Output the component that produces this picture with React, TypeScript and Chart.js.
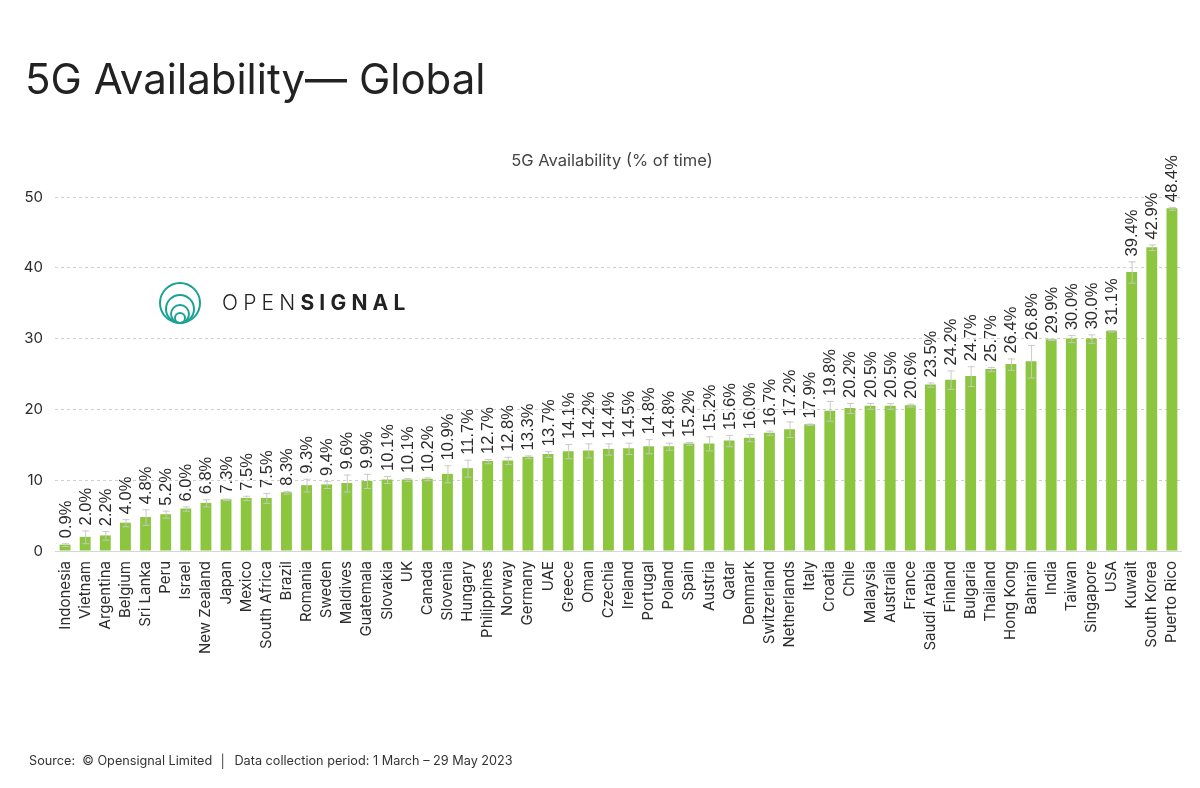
import React, { useEffect, useRef } from "react";
import { Chart, registerables } from "chart.js";

Chart.register(...registerables);

const countries = [
  "Indonesia", "Vietnam", "Argentina", "Belgium", "Sri Lanka", "Peru", "Israel", "New Zealand",
  "Japan", "Mexico", "South Africa", "Brazil", "Romania", "Sweden", "Maldives", "Guatemala",
  "Slovakia", "UK", "Canada", "Slovenia", "Hungary", "Philippines", "Norway", "Germany", "UAE",
  "Greece", "Oman", "Czechia", "Ireland", "Portugal", "Poland", "Spain", "Austria", "Qatar",
  "Denmark", "Switzerland", "Netherlands", "Italy", "Croatia", "Chile", "Malaysia", "Australia",
  "France", "Saudi Arabia", "Finland", "Bulgaria", "Thailand", "Hong Kong", "Bahrain", "India",
  "Taiwan", "Singapore", "USA", "Kuwait", "South Korea", "Puerto Rico",
];

const availability = [
  0.9, 2.0, 2.2, 4.0, 4.8, 5.2, 6.0, 6.8, 7.3, 7.5, 7.5, 8.3, 9.3, 9.4, 9.6, 9.9, 10.1, 10.1,
  10.2, 10.9, 11.7, 12.7, 12.8, 13.3, 13.7, 14.1, 14.2, 14.4, 14.5, 14.8, 14.8, 15.2, 15.2, 15.6,
  16.0, 16.7, 17.2, 17.9, 19.8, 20.2, 20.5, 20.5, 20.6, 23.5, 24.2, 24.7, 25.7, 26.4, 26.8, 29.9,
  30.0, 30.0, 31.1, 39.4, 42.9, 48.4,
];

const errorMargin = [
  0.2, 0.9, 0.6, 0.5, 1.1, 0.5, 0.3, 0.5, 0.1, 0.3, 0.7, 0.2, 0.9, 0.5, 1.2, 1.0, 0.5, 0.2,
  0.2, 1.2, 1.2, 0.3, 0.5, 0.2, 0.4, 1.0, 1.0, 0.8, 0.8, 1.0, 0.5, 0.2, 1.0, 0.8,
  0.5, 0.3, 1.1, 0.1, 1.4, 0.7, 0.4, 0.4, 0.2, 0.3, 1.3, 1.4, 0.3, 0.8, 2.3, 0.1,
  0.5, 0.6, 0.1, 1.5, 0.4, 0.2,
];

const yTicks = [0, 10, 20, 30, 40, 50];

const TITLE = "5G Availability\u2014 Global";
const SUBTITLE = "5G Availability (% of time)";
const FOOTER = "Source:  \u00A9 Opensignal Limited  \u2502  Data collection period: 1 March \u2013 29 May 2023";

const BAR_COLOR = "#8cc63f";
const TEXT_COLOR = "#2b2b2b";

const errorAndLabelPlugin = {
  id: "errorAndLabel",
  afterDatasetsDraw(chart: any) {
    const ctx = chart.ctx;
    const meta = chart.getDatasetMeta(0);
    const y = chart.scales.y;
    ctx.save();
    meta.data.forEach((bar: any, i: number) => {
      const v = availability[i];
      const e = errorMargin[i];
      const x = bar.x;
      const hi = y.getPixelForValue(v + e);
      const lo = y.getPixelForValue(Math.max(0, v - e));
      ctx.strokeStyle = "rgba(200,200,200,0.95)";
      ctx.lineWidth = 1;
      ctx.beginPath();
      ctx.moveTo(x + 0.5, hi);
      ctx.lineTo(x + 0.5, lo);
      ctx.moveTo(x - 3, hi + 0.5);
      ctx.lineTo(x + 4, hi + 0.5);
      ctx.moveTo(x - 3, lo + 0.5);
      ctx.lineTo(x + 4, lo + 0.5);
      ctx.stroke();

      const top = Math.min(hi, bar.y);
      ctx.save();
      ctx.translate(x, top - 5);
      ctx.rotate(-Math.PI / 2);
      ctx.fillStyle = TEXT_COLOR;
      ctx.font = "16.5px 'Liberation Sans', Arial, sans-serif";
      ctx.textAlign = "left";
      ctx.textBaseline = "middle";
      ctx.fillText(v.toFixed(1) + "%", 0, 1);
      ctx.restore();
    });
    ctx.restore();
  },
};

export default function App() {
  const canvasRef = useRef<HTMLCanvasElement | null>(null);

  useEffect(() => {
    document.body.style.margin = "0";
    const canvas = canvasRef.current;
    if (!canvas) return;
    const chart = new Chart(canvas, {
      type: "bar",
      data: {
        labels: countries,
        datasets: [
          {
            label: SUBTITLE,
            data: availability,
            backgroundColor: BAR_COLOR,
            borderWidth: 0,
            barPercentage: 0.54,
            categoryPercentage: 1.0,
          },
        ],
      },
      options: {
        animation: false,
        responsive: false,
        maintainAspectRatio: false,
        layout: { padding: { left: 10, right: 9, top: 197, bottom: 0 } },
        plugins: {
          legend: { display: false },
          tooltip: { enabled: false },
          title: { display: false },
        },
        scales: {
          x: {
            grid: { display: false, drawTicks: false },
            border: { display: true, color: "#d6d6d6", width: 1 },
            ticks: {
              autoSkip: false,
              maxRotation: 90,
              minRotation: 90,
              padding: 10,
              color: TEXT_COLOR,
              font: { family: "Inter, 'Open Sans', sans-serif", size: 15 },
            },
            afterFit(scale: any) {
              scale.height = 237;
            },
          },
          y: {
            min: 0,
            max: 50,
            afterBuildTicks(scale: any) {
              scale.ticks = yTicks.map((v) => ({ value: v }));
            },
            grid: { color: "#cfcfcf", drawTicks: false, lineWidth: 1 },
            border: { display: false, dash: [3, 3] },
            ticks: {
              padding: 12,
              color: TEXT_COLOR,
              font: { family: "Inter, 'Open Sans', sans-serif", size: 15 },
            },
            afterFit(scale: any) {
              scale.width = 45;
            },
          },
        },
      },
      plugins: [errorAndLabelPlugin],
    });
    return () => chart.destroy();
  }, []);

  return (
    <div style={{ position: "relative", width: 1200, height: 788, background: "#fff", overflow: "hidden" }}>
      <canvas ref={canvasRef} width={1200} height={788} style={{ position: "absolute", left: 0, top: 0 }} />
      <div
        style={{
          position: "absolute",
          left: 25,
          top: 58,
          fontFamily: "Inter, sans-serif",
          fontSize: 42,
          lineHeight: "42px",
          color: "#222",
          whiteSpace: "nowrap",
        }}
      >
        {TITLE}
      </div>
      <div
        style={{
          position: "absolute",
          left: 612,
          top: 150,
          transform: "translateX(-50%)",
          fontFamily: "Inter, sans-serif",
          fontSize: 16.5,
          lineHeight: "20px",
          color: "#444",
          whiteSpace: "nowrap",
        }}
      >
        {SUBTITLE}
      </div>
      <svg width={46} height={48} style={{ position: "absolute", left: 158, top: 280 }}>
        <circle cx={22} cy={23} r={20} fill="none" stroke="#1aa394" strokeWidth={2} />
        <circle cx={22} cy={29} r={14} fill="none" stroke="#1aa394" strokeWidth={2} />
        <circle cx={22} cy={34} r={9} fill="none" stroke="#1aa394" strokeWidth={2} />
        <circle cx={22} cy={38} r={5} fill="none" stroke="#1aa394" strokeWidth={2} />
      </svg>
      <div
        style={{
          position: "absolute",
          left: 222,
          top: 291,
          fontFamily: "Inter, sans-serif",
          fontSize: 21,
          lineHeight: "24px",
          color: "#222",
          letterSpacing: "5.2px",
          whiteSpace: "nowrap",
        }}
      >
        <span style={{ fontWeight: 300 }}>OPEN</span>
        <span style={{ fontWeight: 700 }}>SIGNAL</span>
      </div>
      <div
        style={{
          position: "absolute",
          left: 29,
          top: 752,
          fontFamily: "Inter, sans-serif",
          fontSize: 12.7,
          lineHeight: "18px",
          color: "#333",
          whiteSpace: "pre",
        }}
      >
        {FOOTER}
      </div>
    </div>
  );
}
